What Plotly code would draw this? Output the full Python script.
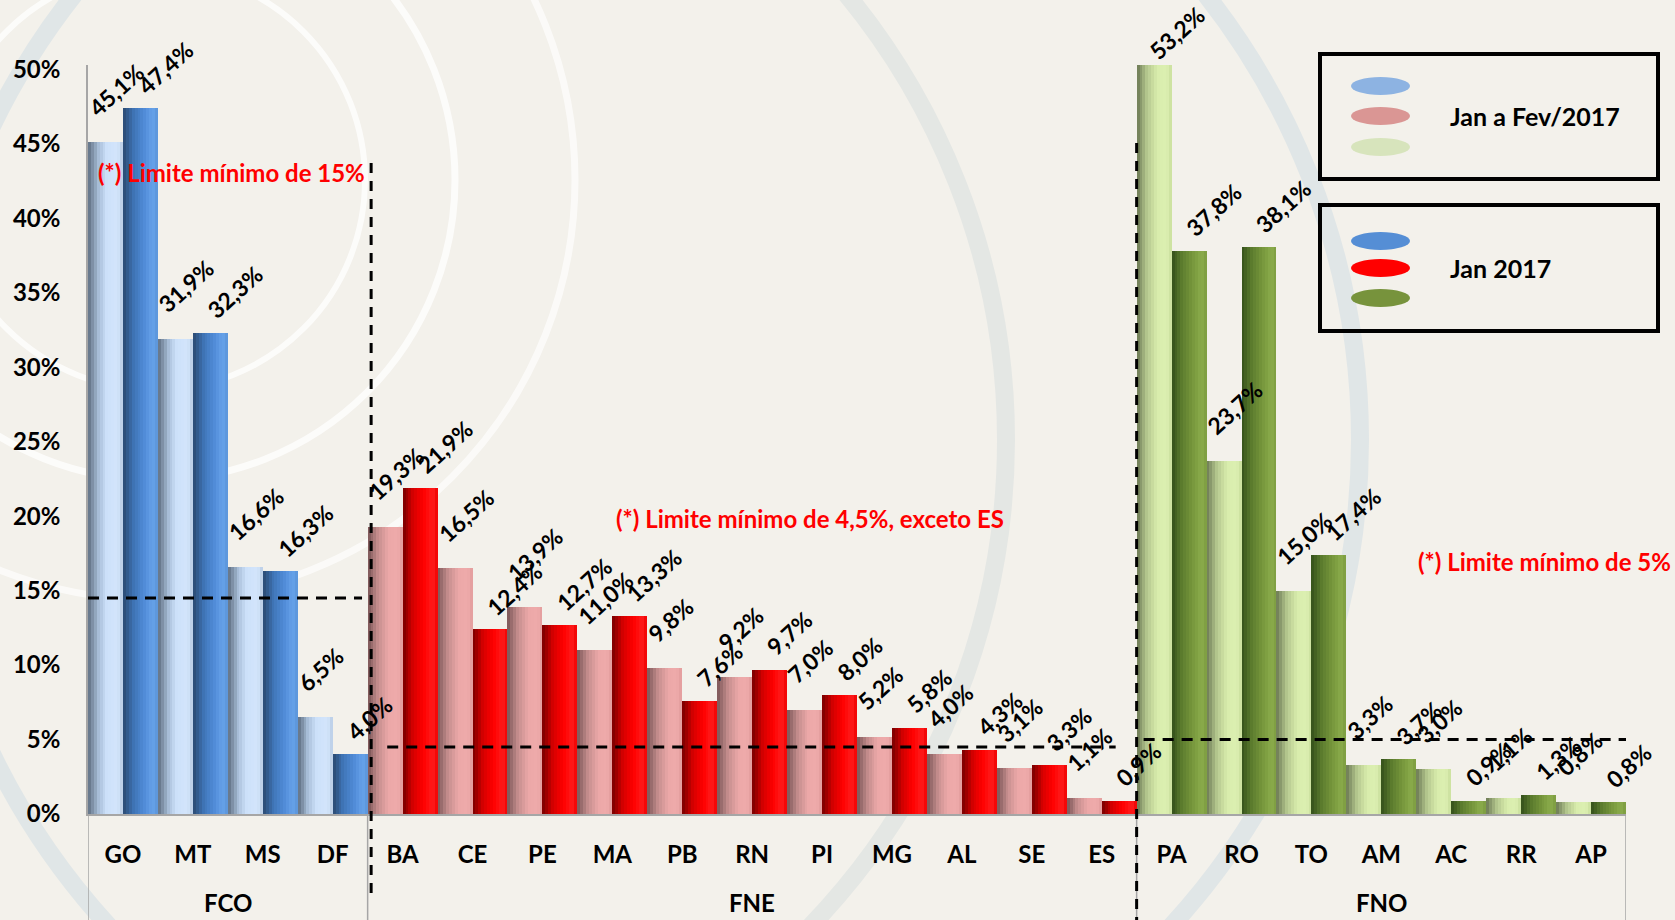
import plotly.graph_objects as go

# ---- dados ----
grupos = ["FCO", "FNE", "FNO"]
estados = [
    ["GO", "MT", "MS", "DF"],
    ["BA", "CE", "PE", "MA", "PB", "RN", "PI", "MG", "AL", "SE", "ES"],
    ["PA", "RO", "TO", "AM", "AC", "RR", "AP"],
]
jan_fev_2017 = [45.1, 31.9, 16.6, 6.5,
                19.3, 16.5, 13.9, 11.0, 9.8, 9.2, 7.0, 5.2, 4.0, 3.1, 1.1,
                53.2, 23.7, 15.0, 3.3, 3.0, 1.1, 0.8]
jan_2017 = [47.4, 32.3, 16.3, 4.0,
            21.9, 12.4, 12.7, 13.3, 7.6, 9.7, 8.0, 5.8, 4.3, 3.3, 0.9,
            37.8, 38.1, 17.4, 3.7, 0.9, 1.3, 0.8]
limite_linha = [14.5, 4.5, 5.0]
notas = ["(*) Limite mínimo de 15%",
         "(*) Limite mínimo de 4,5%, exceto ES",
         "(*) Limite mínimo de 5%"]
legenda = ["Jan a Fev/2017", "Jan 2017"]
y_ticks = [0, 5, 10, 15, 20, 25, 30, 35, 40, 45, 50]

W, H = 1675, 920
L, R, T, B = 88, 49, 65, 106
PW, PH = W - L - R, H - T - B
Y_MAX = 50.3
FONT = "Lato"
BG = "#f3f1eb"


def px(x):
    return (x - L) / PW


def py(y):
    return (H - B - y) / PH


def hexrgb(h):
    return tuple(int(h[i:i + 2], 16) for i in (1, 3, 5))


def mix(stops, t):
    for (t0, c0), (t1, c1) in zip(stops, stops[1:]):
        if t <= t1:
            f = (t - t0) / (t1 - t0)
            a, b = hexrgb(c0), hexrgb(c1)
            return "rgb(%d,%d,%d)" % tuple(round(x + (y - x) * f) for x, y in zip(a, b))
    return stops[-1][1]


# gradiente horizontal de cada barra (efeito cilindro)
paletas = {
    "FCO": {
        "claro": [(0, "#5f6f82"), (0.3, "#a9bfd9"), (0.55, "#cde1fa"), (0.85, "#d3e5fb"), (1, "#b7cbe4")],
        "escuro": [(0, "#2b4a72"), (0.3, "#3f74b6"), (0.6, "#4f8ad6"), (0.85, "#66a2ea"), (1, "#5b94d8")],
    },
    "FNE": {
        "claro": [(0, "#7a5556"), (0.3, "#c48d8d"), (0.6, "#eca8a8"), (0.85, "#eeabab"), (1, "#e19c9c")],
        "escuro": [(0, "#780000"), (0.3, "#d40000"), (0.6, "#ff0000"), (0.85, "#ff1c1c"), (1, "#ee0000")],
    },
    "FNO": {
        "claro": [(0, "#6b7853"), (0.3, "#b4c78e"), (0.6, "#d9edad"), (0.85, "#dcefb1"), (1, "#c9de9c")],
        "escuro": [(0, "#33501a"), (0.3, "#5c7c2e"), (0.6, "#77973c"), (0.85, "#8aac4b"), (1, "#7c9c40")],
    },
}
cores_legenda = [["#8db3e2", "#da9694", "#d7e4bc"], ["#558ed5", "#ff0000", "#77933c"]]

cats = [s for g in estados for s in g]
grupo_de = [grupos[gi] for gi, g in enumerate(estados) for _ in g]

fig = go.Figure()

N = 12
for serie, vals, base in (("claro", jan_fev_2017, -0.5), ("escuro", jan_2017, 0.0)):
    for k in range(N):
        f0 = k / N
        t = (k + 0.5) / N
        cores = [mix(paletas[g][serie], t) for g in grupo_de]
        fig.add_trace(go.Bar(
            x=cats, y=vals, offset=base + 0.5 * f0, width=0.5 * (1 - f0),
            marker=dict(color=cores, line_width=0),
            hoverinfo="skip", showlegend=False,
        ))

# rótulos de dados inclinados
for i in range(len(cats)):
    for vals, left, dx, dy in ((jan_fev_2017, i - 0.5, -8, 18), (jan_2017, i, 6, 6)):
        v = vals[i]
        if v > Y_MAX:
            dx, dy = 4, -3
        fig.add_annotation(
            x=left, y=min(v, Y_MAX), xref="x", yref="y",
            text=f"{v:.1f}%".replace(".", ","), textangle=-42,
            xanchor="left", yanchor="bottom", xshift=dx, yshift=dy,
            showarrow=False, font=dict(family=FONT, size=23, color="black", weight="bold"),
        )

shapes = []

# círculos decorativos do fundo
for cx, cy, r, cor, w in ((155, 180, 210, "rgba(255,255,255,0.75)", 6),
                          (155, 180, 300, "rgba(255,255,255,0.75)", 7),
                          (155, 180, 420, "rgba(255,255,255,0.65)", 7),
                          (304, 440, 702, "#e4e7e4", 18),
                          (640, 440, 720, "#e0e6e7", 18)):
    shapes.append(dict(type="circle", xref="paper", yref="paper", layer="below",
                       x0=px(cx - r), x1=px(cx + r), y0=py(cy + r), y1=py(cy - r),
                       line=dict(color=cor, width=w)))

# divisórias dos grupos e linhas de limite
pos = -0.5
extensoes = [(0.0, -0.08), (0.28, -0.3), (0.1, 0.07)]
fronteiras = [pos]
for gi, g in enumerate(estados):
    ini, fim = pos, pos + len(g)
    fronteiras.append(fim)
    a, b = extensoes[gi]
    shapes.append(dict(type="line", xref="x", yref="y", x0=ini + a, x1=fim + b,
                       y0=limite_linha[gi], y1=limite_linha[gi],
                       line=dict(color="black", width=3, dash="11px,8px")))
    fig.add_annotation(x=(ini + fim) / 2, y=py(902), xref="x", yref="paper",
                       text=grupos[gi], showarrow=False, yanchor="middle",
                       font=dict(family=FONT, size=24, color="black", weight="bold"))
    pos = fim

for xb in fronteiras:
    shapes.append(dict(type="line", xref="x", yref="paper", x0=xb, x1=xb, y0=0, y1=py(H),
                       line=dict(color="#a6a6a6", width=1.5)))

# linhas verticais tracejadas entre os fundos
for xb, topo, fundo in ((fronteiras[1] + 0.05, 163, 900), (fronteiras[2], 143, H)):
    shapes.append(dict(type="line", xref="x", yref="paper", x0=xb, x1=xb,
                       y0=py(topo), y1=py(fundo),
                       line=dict(color="black", width=3, dash="10px,8px")))

# notas em vermelho
for txt, x, y in zip(notas, (96, 614, 1416), (173, 518, 561)):
    fig.add_annotation(x=px(x), y=py(y), xref="paper", yref="paper", text=txt,
                       xanchor="left", yanchor="middle", showarrow=False,
                       font=dict(family=FONT, size=24, color="#ff0000", weight="bold"))

# legenda desenhada
for li, (y0, y1, ys) in enumerate(((54, 179, (86, 116, 147)), (205, 331, (241, 268, 298)))):
    shapes.append(dict(type="rect", xref="paper", yref="paper",
                       x0=px(1320), x1=px(1658), y0=py(y1), y1=py(y0),
                       line=dict(color="black", width=4), fillcolor="rgba(0,0,0,0)"))
    for cor, ye in zip(cores_legenda[li], ys):
        shapes.append(dict(type="circle", xref="paper", yref="paper",
                           x0=px(1351), x1=px(1410), y0=py(ye + 9), y1=py(ye - 9),
                           fillcolor=cor, line_width=0))
    fig.add_annotation(x=px(1448), y=py(ys[1]), xref="paper", yref="paper",
                       text=legenda[li], xanchor="left", yanchor="middle", showarrow=False,
                       font=dict(family=FONT, size=25, color="black", weight="bold"))

fig.update_layout(
    width=W, height=H,
    margin=dict(l=L, r=R, t=T, b=B),
    paper_bgcolor=BG, plot_bgcolor="rgba(0,0,0,0)",
    barmode="overlay", bargap=0,
    shapes=shapes,
    showlegend=False,
)
fig.update_xaxes(
    type="category", range=[-0.5, len(cats) - 0.5],
    showgrid=False, showline=True, linecolor="#a6a6a6", linewidth=2,
    ticks="", ticklabelstandoff=18,
    tickfont=dict(family=FONT, size=24, color="black", weight="bold"),
)
fig.update_yaxes(
    range=[0, Y_MAX], tickmode="array", tickvals=y_ticks,
    ticktext=[f"{v}%" for v in y_ticks],
    showgrid=False, zeroline=False, showline=True, linecolor="#a6a6a6", linewidth=1.5,
    ticks="", ticklabelstandoff=21,
    tickfont=dict(family=FONT, size=24, color="black", weight="bold"),
)

# sem margem da página, para a figura ocupar a janela inteira
fig.write_html("out.html", config={"displayModeBar": False},
               post_script="document.body.style.margin='0';"
                           "document.body.style.background='%s';" % BG)
